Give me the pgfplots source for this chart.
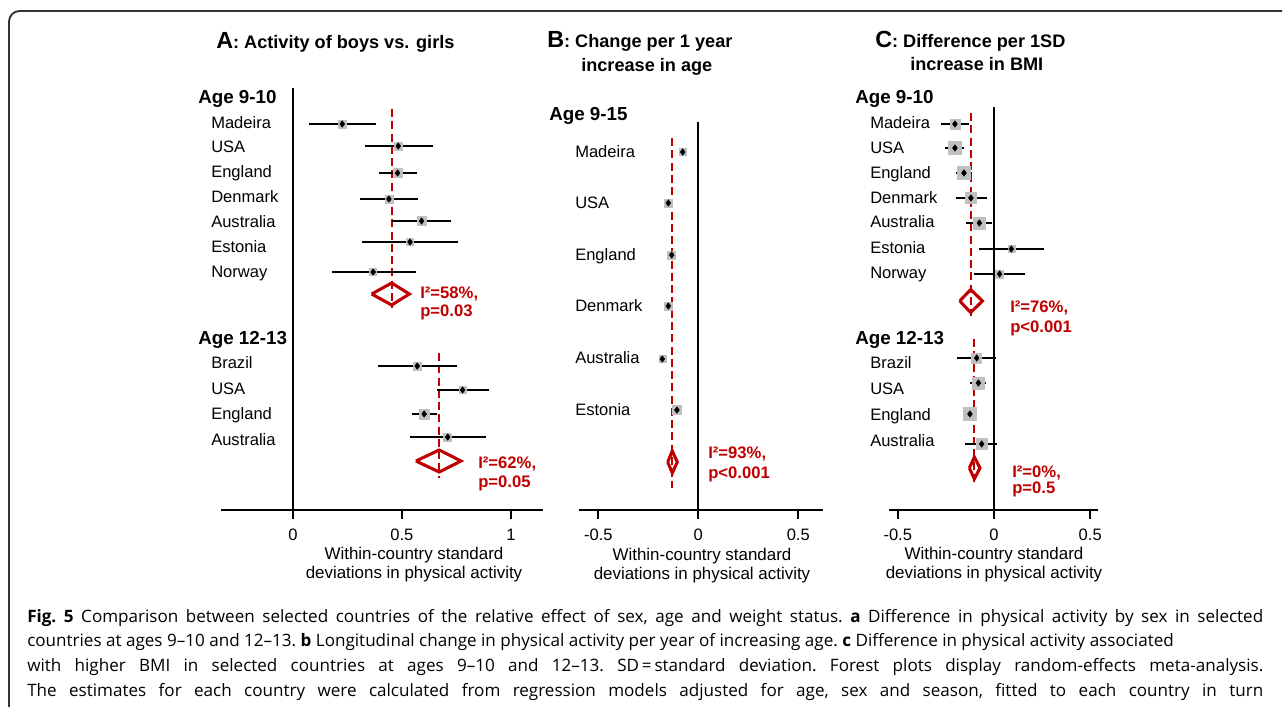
\documentclass[border=0pt]{standalone}
\usepackage{fontspec}
\setmainfont{Liberation Sans}
\newfontfamily\capfont{Open Sans}
\usepackage{pgfplots}
\usepackage{pgfplotstable}
\pgfplotsset{compat=1.18}
\definecolor{fred}{HTML}{C00000}
\definecolor{boxgrey}{HTML}{C0C0C0}

\newcommand\lab{\fontsize{12.4}{14}\selectfont}
\newcommand\hdr{\bfseries\fontsize{14.1}{16}\selectfont}
\newcommand\ttl{\bfseries\fontsize{13.6}{16}\selectfont}
\newcommand\panel{\bfseries\fontsize{17.5}{20}\selectfont}
\newcommand\stat{\color{fred}\bfseries\fontsize{12.5}{14}\selectfont}

% y = minus the row's pixel height, x = effect, lo/hi = 95% CI, w = box half-size (pt)
\pgfplotstableread{
y x lo hi w
-124 0.226 0.075 0.379 3.0
-146 0.483 0.330 0.641 3.0
-173 0.480 0.394 0.570 3.4
-199 0.440 0.307 0.575 3.0
-221 0.590 0.456 0.723 3.4
-242 0.537 0.318 0.755 2.6
-272 0.368 0.177 0.563 2.6
}\sexA
\pgfplotstableread{
y x lo hi w
-366 0.570 0.391 0.751 3.0
-390 0.778 0.659 0.900 2.6
-414 0.602 0.544 0.659 3.8
-437 0.710 0.537 0.884 3.0
}\sexB
\pgfplotstableread{
y x lo hi w
-152 -0.078 -0.086 -0.070 2.6
-203 -0.150 -0.158 -0.142 3.0
-255 -0.133 -0.141 -0.125 3.0
-306 -0.150 -0.158 -0.142 3.0
-359 -0.180 -0.188 -0.172 2.6
-410 -0.107 -0.125 -0.090 3.4
}\ageB
\pgfplotstableread{
y x lo hi w
-124 -0.203 -0.277 -0.132 3.75
-148 -0.203 -0.253 -0.154 4.9
-173 -0.156 -0.199 -0.113 4.9
-198 -0.120 -0.199 -0.038 4.1
-223 -0.076 -0.146 -0.009 4.5
-249 0.090 -0.078 0.262 2.6
-274 0.029 -0.106 0.163 3.0
}\bmiA
\pgfplotstableread{
y x lo hi w
-358 -0.090 -0.191 0.010 3.75
-383 -0.081 -0.123 -0.042 4.5
-414 -0.125 -0.156 -0.090 4.9
-444 -0.064 -0.149 0.017 4.1
}\bmiB

\pgfplotsset{
  forest/.style={
    scale only axis, height=337.5pt, ymin=-510, ymax=-60,
    anchor=south west, clip=false,
    axis x line=bottom, axis y line=none,
    x axis line style={-}, axis line style={line width=1.5pt},
    xtick align=outside, major tick length=6.75pt,
    tick style={black, line width=1.5pt},
    xticklabel style={font=\lab, yshift=-4pt},
  },
  box/.style={only marks, mark=square*, color=boxgrey,
    scatter, scatter/use mapped color={draw=boxgrey, fill=boxgrey},
    visualization depends on={\thisrow{w} \as \wbox},
    scatter/@pre marker code/.append style={/tikz/mark size=\wbox}},
  ci/.style={only marks, mark=diamond*, mark size=2.4pt, black,
    error bars/.cd, x dir=both, x explicit, error mark=none,
    error bar style={line width=1.5pt, black}},
  pooled/.style={fred, dash pattern=on 6pt off 3.2pt, line width=1.5pt},
  dia/.style={fred, line width=2.3pt, line join=miter},
  zero/.style={black, line width=1.4pt},
}

\begin{document}
\begin{tikzpicture}[x=0.75pt, y=-0.75pt]
\useasboundingbox (0,0) rectangle (1282,707);
\clip (0,0) rectangle (1282,707);
\draw[line width=1.4pt, black!80, rounded corners=8pt] (9,740) -- (9,11) -- (1320,11);

\coordinate (pA) at (221,510);
\coordinate (pB) at (579.3,510);
\coordinate (pC) at (889.3,510);

% ---------- A
\begin{axis}[forest, at={(pA)}, width=241.5pt, xmin=-0.33, xmax=1.147,
  xtick={0,0.5,1}, xticklabels={0,0.5,1}]
  \addplot[zero] coordinates {(0,-88) (0,-510)};
  \addplot[box] table[x=x, y=y] {\sexA};
  \addplot[box] table[x=x, y=y] {\sexB};
  \addplot[pooled] coordinates {(0.453,-109) (0.453,-308)};
  \addplot[pooled] coordinates {(0.671,-353) (0.671,-478)};
  \addplot[ci] table[x=x, y=y, x error minus expr=\thisrow{x}-\thisrow{lo}, x error plus expr=\thisrow{hi}-\thisrow{x}] {\sexA};
  \addplot[ci] table[x=x, y=y, x error minus expr=\thisrow{x}-\thisrow{lo}, x error plus expr=\thisrow{hi}-\thisrow{x}] {\sexB};
  \addplot[dia] coordinates {(0.361,-294) (0.453,-283) (0.534,-294) (0.453,-305) (0.361,-294)};
  \addplot[dia] coordinates {(0.564,-461) (0.671,-450) (0.771,-461) (0.671,-472) (0.564,-461)};
\end{axis}

% ---------- B
\begin{axis}[forest, at={(pB)}, width=183pt, xmin=-0.595, xmax=0.625,
  xtick={-0.5,0,0.5}, xticklabels={-0.5,0,0.5}]
  \addplot[zero] coordinates {(0,-122) (0,-510)};
  \addplot[box] table[x=x, y=y] {\ageB};
  \addplot[pooled] coordinates {(-0.130,-138) (-0.130,-488)};
  \addplot[ci] table[x=x, y=y, x error minus expr=\thisrow{x}-\thisrow{lo}, x error plus expr=\thisrow{hi}-\thisrow{x}] {\ageB};
  \addplot[dia] coordinates {(-0.153,-462) (-0.130,-451) (-0.105,-462) (-0.130,-473) (-0.153,-462)};
\end{axis}

% ---------- C
\begin{axis}[forest, at={(pC)}, width=156.75pt, xmin=-0.544, xmax=0.542,
  xtick={-0.5,0,0.5}, xticklabels={-0.5,0,0.5}]
  \addplot[zero] coordinates {(0,-107) (0,-510)};
  \addplot[box] table[x=x, y=y] {\bmiA};
  \addplot[box] table[x=x, y=y] {\bmiB};
  \addplot[pooled] coordinates {(-0.121,-113) (-0.121,-316)};
  \addplot[pooled] coordinates {(-0.102,-339) (-0.102,-483)};
  \addplot[ci] table[x=x, y=y, x error minus expr=\thisrow{x}-\thisrow{lo}, x error plus expr=\thisrow{hi}-\thisrow{x}] {\bmiA};
  \addplot[ci] table[x=x, y=y, x error minus expr=\thisrow{x}-\thisrow{lo}, x error plus expr=\thisrow{hi}-\thisrow{x}] {\bmiB};
  \addplot[dia] coordinates {(-0.178,-301) (-0.121,-289.5) (-0.060,-301) (-0.121,-312.5) (-0.178,-301)};
  \addplot[dia] coordinates {(-0.128,-468) (-0.102,-457) (-0.073,-468) (-0.102,-479) (-0.128,-468)};
\end{axis}

\begin{scope}[every node/.style={anchor=base west, inner sep=0pt}]
% titles
\node at (216,48) {\panel A\ttl: Activity of boys vs. girls};
\node at (547,47) {\panel B\ttl: Change per 1 year};
\node at (581,71) {\ttl increase in age};
\node at (875,47) {\panel C\ttl: Difference per 1SD};
\node at (910,70) {\ttl increase in BMI};
% A labels
\node at (198,103) {\hdr Age 9-10};
\foreach \n/\yy in {Madeira/128, USA/152, England/177, Denmark/202, Australia/227, Estonia/252, Norway/277}
  \node at (211,\yy) {\lab \n};
\node at (198,344) {\hdr Age 12-13};
\foreach \n/\yy in {Brazil/368, USA/394, England/419, Australia/445}
  \node at (211,\yy) {\lab \n};
\node at (420,298) {\stat I²=58\%,};
\node at (420,316) {\stat p=0.03};
\node at (478,468) {\stat I²=62\%,};
\node at (478,487) {\stat p=0.05};
% B labels
\node at (549,120) {\hdr Age 9-15};
\foreach \n/\yy in {Madeira/157, USA/208, England/260, Denmark/311, Australia/363, Estonia/415}
  \node at (575,\yy) {\lab \n};
\node at (708,458) {\stat I²=93\%,};
\node at (708,478) {\stat p<0.001};
% C labels
\node at (855,103) {\hdr Age 9-10};
\foreach \n/\yy in {Madeira/128, USA/153, England/178, Denmark/203, Australia/227, Estonia/253, Norway/278}
  \node at (870,\yy) {\lab \n};
\node at (855,344) {\hdr Age 12-13};
\foreach \n/\yy in {Brazil/368, USA/394, England/420, Australia/446}
  \node at (870,\yy) {\lab \n};
\node at (1010,312) {\stat I²=76\%,};
\node at (1010,332) {\stat p<0.001};
\node at (1012,477) {\stat I²=0\%,};
\node at (1012,493) {\stat p=0.5};
\end{scope}

% x axis titles
\begin{scope}[every node/.style={anchor=base, inner sep=0pt, font=\fontsize{12.7}{14}\selectfont}]
\node at (414,559) {Within-country standard};
\node at (414,578) {deviations in physical activity};
\node at (702,560) {Within-country standard};
\node at (702,579) {deviations in physical activity};
\node at (994,559) {Within-country standard};
\node at (994,578) {deviations in physical activity};
\end{scope}

% caption
\node[anchor=base west, inner sep=0pt] at (27,622) {\parbox[t]{927pt}{\capfont\fontsize{12.8}{18.6}\selectfont\frenchspacing\parindent=0pt\parfillskip=0pt
\textbf{Fig.~5} Comparison between selected countries of the relative effect of sex, age and weight status. \textbf{a} Difference in physical activity by sex in selected\linebreak
countries at ages 9–10 and 12–13. \textbf{b} Longitudinal change in physical activity per year of increasing age. \textbf{c} Difference in physical activity associated\newline
with higher BMI in selected countries at ages 9–10 and 12–13. SD\,=\,standard deviation. Forest plots display random-effects meta-analysis.\linebreak
The estimates for each country were calculated from regression models adjusted for age, sex and season, fitted to each country in turn}};
\end{tikzpicture}
\end{document}
